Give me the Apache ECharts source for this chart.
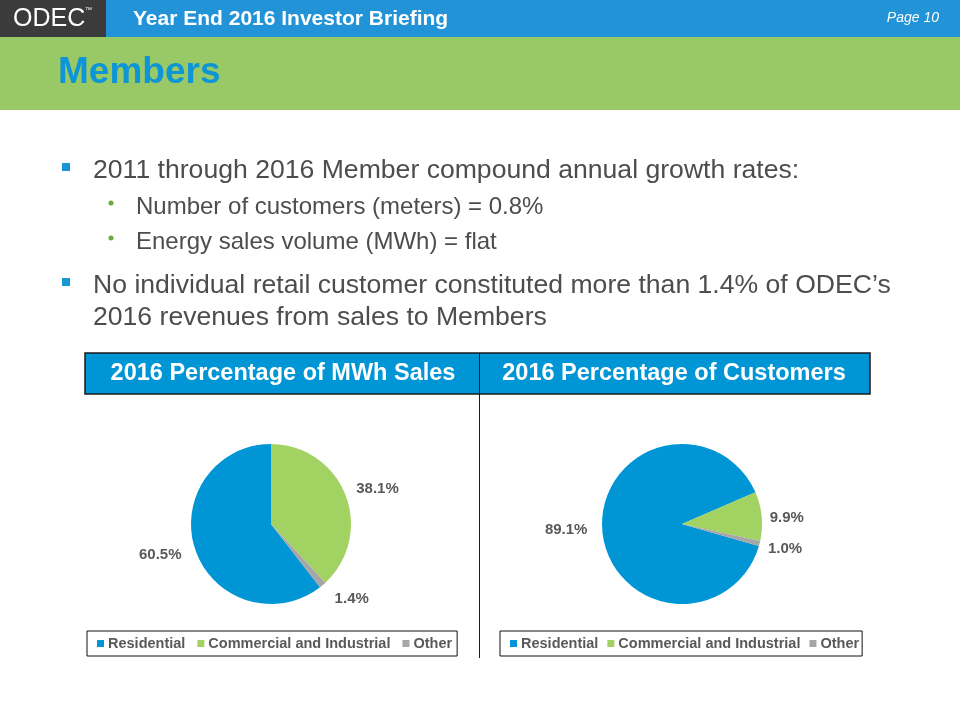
<!DOCTYPE html>
<html>
<head>
<meta charset="utf-8">
<script src="https://cdn.jsdelivr.net/npm/echarts@6/dist/echarts.min.js"></script>
<style>
html,body{margin:0;padding:0;background:#fff;}
#c{width:960px;height:720px;}
</style>
</head>
<body>
<div id="c"></div>
<script>
// ---- data ----
const categories = ['Residential', 'Commercial and Industrial', 'Other'];
const mwhShare = [60.5, 38.1, 1.4];
const customerShare = [89.1, 9.9, 1.0];
const chartTitles = ['2016 Percentage of MWh Sales', '2016 Percentage of Customers'];
const headerTitle = 'Year End 2016 Investor Briefing';
const pageLabel = 'Page 10';
const slideTitle = 'Members';
const bullet1 = '2011 through 2016 Member compound annual growth rates:';
const subBullets = ['Number of customers (meters) = 0.8%', 'Energy sales volume (MWh) = flat'];
const bullet2Lines = ['No individual retail customer constituted more than 1.4% of ODEC\u2019s', '2016 revenues from sales to Members'];

// ---- layout / style ----
const colors = ['#0096d6', '#a2d362', '#a6a6a6'];
const FONT = '"Liberation Sans", Arial, sans-serif';
const textGray = '#4d4d4d';
const labelGray = '#595959';
const pieR = 80;
const pieCenters = [[271, 524], [682, 524]];
const pieStart = [-52.2, -15.9];
// label placement (compass angle in degrees, distance from centre)
const labelPolar = [
  [[254.4, 115], [71.9, 112], [132.8, 110]],
  [[267.1, 116], [86.8, 105], [103.6, 106]]
];

function txt(x, y, text, font, fill, align, extra) {
  return Object.assign({
    type: 'text', x: x, y: y, silent: true,
    style: { x: 0, y: 0, text: text, font: font, fill: fill,
      textAlign: align || 'left', align: align || 'left',
      textVerticalAlign: 'middle', verticalAlign: 'middle' }
  }, extra || {});
}

const graphics = [
  { type: 'rect', shape: { x: 0, y: 0, width: 106, height: 37 }, style: { fill: '#3b3b3b' }, silent: true },
  { type: 'rect', shape: { x: 106, y: 0, width: 854, height: 37 }, style: { fill: '#2193d6' }, silent: true },
  { type: 'rect', shape: { x: 0, y: 37, width: 960, height: 73 }, style: { fill: '#99c966' }, silent: true },
  txt(13, 19, 'ODEC', '25px ' + FONT, '#ffffff'),
  txt(85, 10, '\u2122', '7px ' + FONT, '#ffffff'),
  txt(133, 19, headerTitle, 'bold 21px ' + FONT, '#ffffff'),
  txt(939, 18, pageLabel, 'italic 14px ' + FONT, '#ffffff', 'right'),
  txt(58, 73, slideTitle, 'bold 37px ' + FONT, '#0e95d6'),
  // bullets
  { type: 'rect', shape: { x: 62, y: 163, width: 8, height: 8 }, style: { fill: '#1a96d4' }, silent: true },
  txt(93, 171, bullet1, '26.6px ' + FONT, textGray),
  { type: 'circle', shape: { cx: 111, cy: 203, r: 2.5 }, style: { fill: '#6aab3a' }, silent: true },
  txt(136, 207, subBullets[0], '24px ' + FONT, textGray),
  { type: 'circle', shape: { cx: 111, cy: 238, r: 2.5 }, style: { fill: '#6aab3a' }, silent: true },
  txt(136, 242, subBullets[1], '24px ' + FONT, textGray),
  { type: 'rect', shape: { x: 62, y: 278, width: 8, height: 8 }, style: { fill: '#1a96d4' }, silent: true },
  txt(93, 286, bullet2Lines[0], '26.6px ' + FONT, textGray),
  txt(93, 318, bullet2Lines[1], '26.6px ' + FONT, textGray),
  // table header
  { type: 'rect', shape: { x: 85, y: 353, width: 785, height: 41 }, style: { fill: '#0096d6', stroke: '#1a1a1a', lineWidth: 1.5 }, silent: true },
  { type: 'line', shape: { x1: 479.5, y1: 353, x2: 479.5, y2: 658 }, style: { stroke: '#1a1a1a', lineWidth: 1 }, silent: true },
  txt(283, 374, chartTitles[0], 'bold 23.5px ' + FONT, '#ffffff', 'center'),
  txt(674, 374, chartTitles[1], 'bold 23.5px ' + FONT, '#ffffff', 'center')
];

function pieData(values) {
  return categories.map((n, i) => ({ name: n, value: values[i] }));
}

function makePie(idx, values) {
  const c = pieCenters[idx];
  return {
    type: 'pie',
    center: c,
    radius: [0, pieR],
    startAngle: pieStart[idx],
    clockwise: true,
    avoidLabelOverlap: false,
    data: pieData(values),
    itemStyle: { borderWidth: 0 },
    emphasis: { disabled: true },
    label: {
      show: true, position: 'outside',
      formatter: p => p.value.toFixed(1) + '%',
      fontFamily: FONT, fontWeight: 'bold', fontSize: 15, color: labelGray
    },
    labelLine: { show: false },
    labelLayout: function (params) {
      const lp = labelPolar[idx][params.dataIndex];
      const a = lp[0] * Math.PI / 180;
      return {
        x: c[0] + Math.sin(a) * lp[1],
        y: c[1] - Math.cos(a) * lp[1],
        align: 'center', verticalAlign: 'middle'
      };
    }
  };
}

function makeLegend(left, gap, padRight) {
  return {
    left: left, top: 631,
    orient: 'horizontal',
    data: categories,
    icon: 'rect',
    itemWidth: 7, itemHeight: 7, itemGap: gap,
    padding: [5, padRight, 5, 10],
    borderColor: '#111', borderWidth: 1,
    selectedMode: false,
    textStyle: { fontFamily: FONT, fontWeight: 'bold', fontSize: 14.5, color: labelGray, padding: [0, 0, 0, -1] }
  };
}

const chart = echarts.init(document.getElementById('c'), null, { renderer: 'canvas' });
chart.setOption({
  animation: false,
  color: colors,
  graphic: graphics,
  legend: [makeLegend(87, 12, 5), makeLegend(500, 9, 3)],
  series: [makePie(0, mwhShare), makePie(1, customerShare)]
});
</script>
</body>
</html>
